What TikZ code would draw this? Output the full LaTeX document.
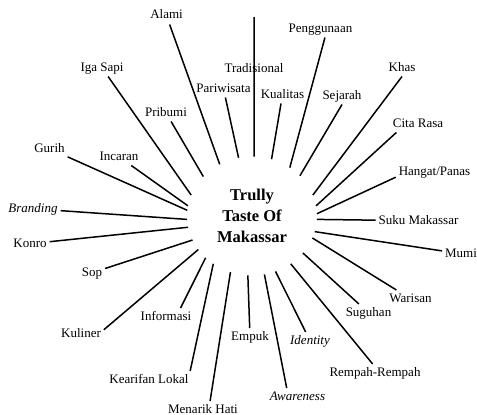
\documentclass[tikz,border=0pt]{standalone}
\usepackage{fontspec}
\setmainfont{Liberation Serif}
\usetikzlibrary{shapes.geometric}

\begin{document}
\begin{tikzpicture}[x=1pt,y=-1pt,line width=1.5pt]
  \tikzstyle{term}=[font=\fontsize{13}{15}\selectfont,text height=9pt,text depth=2.5pt,
                    inner sep=3pt,outer sep=0pt,anchor=base]
  \tikzstyle{iterm}=[term,font=\fontsize{13}{15}\selectfont\itshape]
  \tikzstyle{hub}=[ellipse,minimum width=130pt,minimum height=119pt,inner sep=0pt,
                   outer sep=0pt,align=center,font=\fontsize{16.5}{21}\selectfont\bfseries]
  \useasboundingbox (0,0) rectangle (477,415);

  \node[hub]   (hub)         at (252,216)   {Trully\\Taste Of\\Makassar};
  \node[term]  (alami)       at (166.5,19)  {Alami};
  \node[term]  (igasapi)     at (102,71)    {Iga Sapi};
  \node[term]  (pribumi)     at (166,116)   {Pribumi};
  \node[term]  (gurih)       at (49.5,152)  {Gurih};
  \node[term]  (incaran)     at (119,160)   {Incaran};
  \node[iterm] (branding)    at (33,212)    {Branding};
  \node[term]  (konro)       at (30,247)    {Konro};
  \node[term]  (sop)         at (92,276)    {Sop};
  \node[term]  (kuliner)     at (81,337)    {Kuliner};
  \node[term]  (informasi)   at (166,320)   {Informasi};
  \node[term]  (kearifan)    at (149,383)   {Kearifan Lokal};
  \node[term]  (menarik)     at (203,413)   {Menarik Hati};
  \node[term]  (empuk)       at (250,340)   {Empuk};
  \node[iterm] (awareness)   at (297.5,400) {Awareness};
  \node[iterm] (identity)    at (310,344)   {Identity};
  \node[term]  (rempah)      at (375,376)   {Rempah-Rempah};
  \node[term]  (suguhan)     at (368.5,316) {Suguhan};
  \node[term]  (warisan)     at (410.5,302) {Warisan};
  \node[term]  (mumi)        at (461,257)   {Mumi};
  \node[term]  (suku)        at (418.5,224) {Suku Makassar};
  \node[term]  (hangat)      at (434.5,175) {Hangat/Panas};
  \node[term]  (citarasa)    at (418,127)   {Cita Rasa};
  \node[term]  (khas)        at (402,71)    {Khas};
  \node[term]  (sejarah)     at (342,99)    {Sejarah};
  \node[term]  (penggunaan)  at (320.5,32)  {Penggunaan};
  \node[term]  (kualitas)    at (282.5,98)  {Kualitas};
  \node[term]  (tradisional) at (254,72)    {Tradisional};
  \node[term]  (pariwisata)  at (223.5,92)  {Pariwisata};
  \coordinate  (top)         at (254,17);

  \path (alami)          edge (hub.122)
        (igasapi)        edge (hub.161)
        (pribumi)        edge (hub.141)
        (gurih)          edge (hub.175)
        (incaran)        edge (hub.171)
        (branding)       edge (hub.183)
        (konro)          edge (hub.190)
        (sop)            edge (hub.202)
        (kuliner.10)     edge (hub.212)
        (informasi.31)   edge (hub.222)
        (kearifan.12)    edge (hub.231)
        (menarik.51)     edge (hub.249)
        (empuk)          edge (hub.266)
        (awareness.141)  edge (hub.282)
        (identity)       edge (hub.293)
        (rempah.105)     edge (hub.309)
        (suguhan)        edge (hub.324)
        (warisan)        edge (hub.340)
        (mumi)           edge (hub.346)
        (suku)           edge (hub.357)
        (hangat.188)     edge (hub.2)
        (citarasa.202)   edge (hub.9)
        (khas.south)     edge (hub.19)
        (sejarah.south)  edge (hub.40)
        (penggunaan.297) edge (hub.52)
        (kualitas)       edge (hub.71)
        (top)            edge (hub.88)
        (pariwisata)     edge (hub.103);
\end{tikzpicture}
\end{document}
